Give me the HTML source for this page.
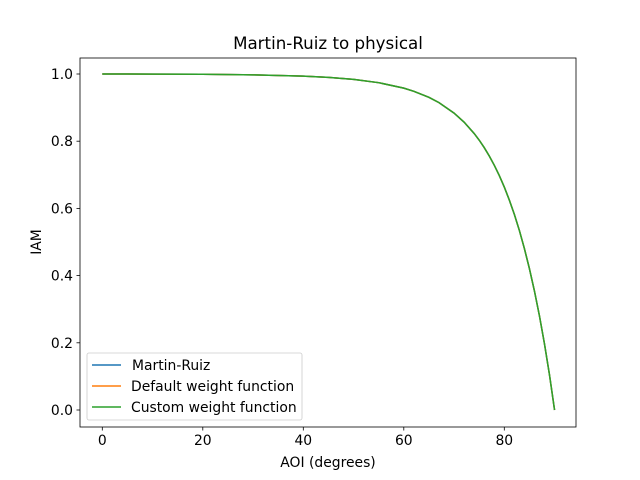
<!DOCTYPE html>
<html><head><style>body{margin:0;background:#fff}svg{display:block}text{font-family:"DejaVu Sans","Liberation Sans",sans-serif;fill:#000}</style></head>
<body>
<svg width="640" height="480" viewBox="0 0 640 480">
<rect width="640" height="480" fill="#fff"/>
<defs>
<polyline id="c" fill="none" points="102.3,74 152.55,74.07 202.8,74.3 253.05,74.85 303.3,76.15 328.4,77.4 353.55,79.41 378.7,82.69 403.8,88.14 413.85,91.27 428.9,97.35 438.98,102.6 454.05,113.08 464.1,122.15 474.15,133.47 479.2,140.14 484.2,147.58 489.2,155.85 494.25,165.16 499.3,175.54 504.3,187.07 509.3,200 514.35,214.41 519.4,230.54 524.4,248.55 529.4,268.61 534.45,291.03 539.5,316.09 544.5,344.04 549.55,375.22 554.55,410"/>
</defs>
<g stroke="#000" stroke-width="0.8">
<line x1="102.3" y1="427" x2="102.3" y2="430.5"/><line x1="202.8" y1="427" x2="202.8" y2="430.5"/><line x1="303.3" y1="427" x2="303.3" y2="430.5"/><line x1="403.8" y1="427" x2="403.8" y2="430.5"/><line x1="504.3" y1="427" x2="504.3" y2="430.5"/>
<line x1="80" y1="410" x2="76.5" y2="410"/><line x1="80" y1="342.8" x2="76.5" y2="342.8"/><line x1="80" y1="275.6" x2="76.5" y2="275.6"/><line x1="80" y1="208.4" x2="76.5" y2="208.4"/><line x1="80" y1="141.2" x2="76.5" y2="141.2"/><line x1="80" y1="74" x2="76.5" y2="74"/>
</g>
<g font-size="13.9" text-anchor="middle">
<text x="102.3" y="445">0</text><text x="202.8" y="445">20</text><text x="303.3" y="445">40</text><text x="403.8" y="445">60</text><text x="504.3" y="445">80</text>
</g>
<g font-size="13.9" text-anchor="end">
<text x="73" y="415">0.0</text><text x="73" y="347.8">0.2</text><text x="73" y="280.6">0.4</text><text x="73" y="213.4">0.6</text><text x="73" y="146.2">0.8</text><text x="73" y="79">1.0</text>
</g>
<text x="328" y="467" font-size="13.9" text-anchor="middle">AOI (degrees)</text>
<text transform="translate(41,242) rotate(-90)" font-size="13.9" text-anchor="middle">IAM</text>
<text x="328" y="49" font-size="16.7" text-anchor="middle">Martin-Ruiz to physical</text>
<use href="#c" stroke="#1f77b4" stroke-width="1.5"/>
<use href="#c" stroke="#ff7f0e" stroke-width="1.5"/>
<use href="#c" stroke="#2ca02c" stroke-width="1.5"/>
<rect x="80" y="58" width="496" height="369" fill="none" stroke="#000" stroke-width="0.8"/>
<rect x="87" y="353" width="215" height="67" rx="2" fill="#fff" fill-opacity="0.8" stroke="#ccc" stroke-width="0.8"/>
<line x1="92" y1="365" x2="121" y2="365" stroke="#1f77b4" stroke-width="1.5"/>
<line x1="92" y1="386" x2="121" y2="386" stroke="#ff7f0e" stroke-width="1.5"/>
<line x1="92" y1="407" x2="121" y2="407" stroke="#2ca02c" stroke-width="1.5"/>
<g font-size="13.9">
<text x="132" y="370">Martin-Ruiz</text>
<text x="131" y="391">Default weight function</text>
<text x="131" y="412">Custom weight function</text>
</g>
</svg>
</body></html>
